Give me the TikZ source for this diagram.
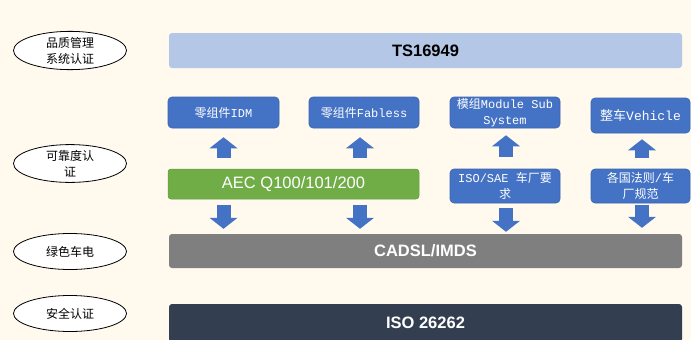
\documentclass[tikz,border=0pt]{standalone}
\usepackage{fontspec}
\setmainfont{Liberation Sans}
\newfontfamily\cjk{Noto Sans CJK SC}
\newfontfamily\mono{Liberation Mono}
\usetikzlibrary{arrows.meta,shapes.geometric}
\definecolor{bgc}{HTML}{FFF9EE}
\definecolor{tsblue}{HTML}{B4C7E7}
\definecolor{boxblue}{HTML}{4472C4}
\definecolor{boxedge}{HTML}{3B64AE}
\definecolor{aecgreen}{HTML}{70AD47}
\definecolor{cadgray}{HTML}{7F7F7F}
\definecolor{isonavy}{HTML}{333F50}
\begin{document}
\begin{tikzpicture}[x=1pt,y=-1pt,
  cat/.style={ellipse, draw=black, line width=0.8pt, fill=white, minimum width=113pt, minimum height=36pt, inner sep=0pt, align=center, font=\cjk\fontsize{12}{16}\selectfont},
  bar/.style={rounded corners=3pt, minimum width=513pt, inner sep=0pt, font=\fontsize{16.5}{20}\selectfont\bfseries},
  bluebox/.style={rounded corners=4pt, fill=boxblue, draw=boxedge, line width=0.6pt, text=white, inner sep=0pt, align=center, font=\mono\fontsize{12}{16}\selectfont},
  blockarrow/.style={boxblue, line width=14pt, -{Triangle[length=11pt,width=28pt,line width=0pt]}}
]
\useasboundingbox (0,0) rectangle (691,340);
\fill[bgc] (0,0) rectangle (691,340);

% category ellipses
\node[cat] (c1) at (70,50.5) {品质管理\\系统认证};
\node[cat] (c2) at (70,163.5) {可靠度认\\证};
\node[cat] (c3) at (70,251.5) {绿色车电};
\node[cat] (c4) at (70,313.5) {安全认证};

% bars
\node[bar, fill=tsblue, minimum height=35pt] (ts) at (425.5,50.5) {TS16949};
\node[bar, fill=cadgray, text=white, minimum height=34pt] (cad) at (425.5,251) {CADSL/IMDS};
\node[bar, fill=isonavy, text=white, minimum height=38pt] (iso) at (425.5,323) {ISO 26262};

% top blue boxes
\node[bluebox, minimum width=111pt, minimum height=31pt] (idm) at (223.5,112.5) {{\cjk 零组件}IDM};
\node[bluebox, minimum width=110pt, minimum height=31pt] (fab) at (364,112.5) {{\cjk 零组件}Fabless};
\node[bluebox, minimum width=110pt, minimum height=31pt] (mod) at (505,112.5) {{\cjk 模组}Module Sub\\System};
\node[bluebox, minimum width=99pt, minimum height=35pt, font=\mono\fontsize{13}{16}\selectfont] (veh) at (640.5,115.5) {{\cjk 整车}Vehicle};

% middle row
\node[rounded corners=3pt, fill=aecgreen, draw=aecgreen!90!black, line width=0.5pt, text=white, minimum width=251pt, minimum height=30pt, inner sep=0pt, font=\fontsize{16.5}{20}\selectfont] (aec) at (293.5,184) {AEC Q100/101/200};
\node[bluebox, minimum width=110pt, minimum height=34pt] (sae) at (505,186) {ISO/SAE {\cjk 车厂要}\\{\cjk 求}};
\node[bluebox, minimum width=99pt, minimum height=34pt] (law) at (640.5,186) {{\cjk 各国法则}/{\cjk 车}\\{\cjk 厂规范}};

% up arrows
\draw[blockarrow, shorten <=11pt, shorten >=9pt] (aec.north -| idm.south) -- (idm.south);
\draw[blockarrow, shorten <=11pt, shorten >=9pt] ([xshift=-4pt]aec.north -| fab.south) -- ([xshift=-4pt]fab.south);
\draw[blockarrow, shorten <=12pt, shorten >=7pt] ([xshift=1pt]sae.north) -- ([xshift=1pt]mod.south);
\draw[blockarrow, shorten <=11pt, shorten >=6pt] ([xshift=1.5pt]law.north) -- ([xshift=1.5pt]veh.south);

% down arrows
\draw[blockarrow, shorten <=6pt, shorten >=5pt] (aec.south -| idm.south) -- (cad.north -| idm.south);
\draw[blockarrow, shorten <=6pt, shorten >=5pt] ([xshift=-4pt]aec.south -| fab.south) -- ([xshift=-4pt]cad.north -| fab.south);
\draw[blockarrow, shorten <=5pt, shorten >=2pt] ([xshift=1pt]sae.south) -- ([xshift=1pt]cad.north -| sae.south);
\draw[blockarrow, shorten <=2pt, shorten >=6pt] ([xshift=1.5pt]law.south) -- ([xshift=1.5pt]cad.north -| law.south);
\end{tikzpicture}
\end{document}
